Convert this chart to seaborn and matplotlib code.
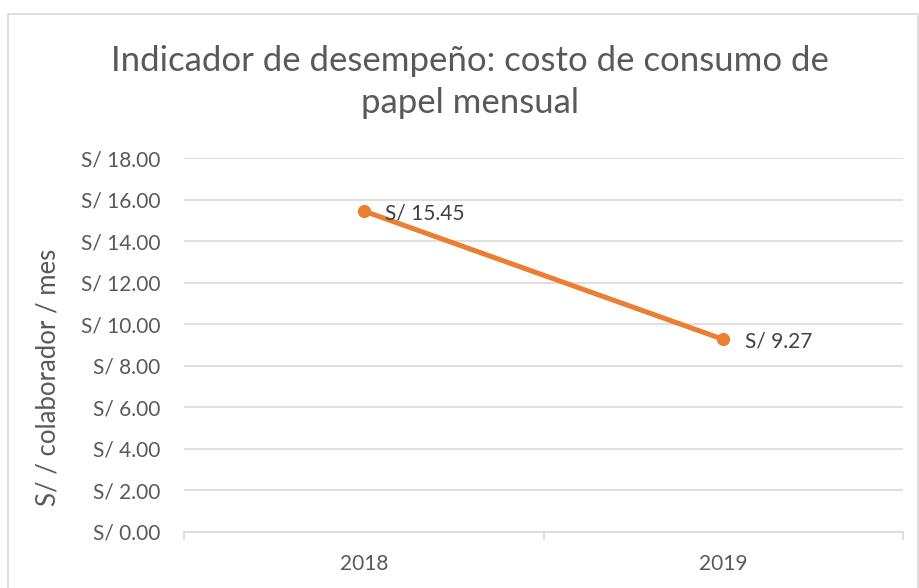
import pandas as pd
import matplotlib.pyplot as plt
import seaborn as sns
from matplotlib.patches import Rectangle
from matplotlib.ticker import FixedLocator, FuncFormatter

years = ["2018", "2019"]
costs = [15.45, 9.27]
yticks = [0, 2, 4, 6, 8, 10, 12, 14, 16, 18]

df = pd.DataFrame({"year": years, "cost": costs})

sns.set_theme(style="white")
plt.rcParams['font.family'] = ['Lato', 'DejaVu Sans']

text_color = "#595959"
grid_color = "#d9d9d9"
orange = "#ED7D31"

fig = plt.figure(figsize=(9.2, 5.88), dpi=100)
ax = fig.add_axes([184 / 920, 1 - 532 / 588, (903 - 184) / 920, (532 - 158) / 588])

sns.lineplot(data=df, x="year", y="cost", ax=ax, color=orange, linewidth=3.6,
             marker="o", markersize=9.5, markeredgewidth=0, zorder=3)

for i, v in enumerate(costs):
    ax.annotate(f"S/ {v:.2f}", (i, v), xytext=(15.5, -1.5), textcoords="offset points",
                ha="left", va="center", fontsize=15, color="#404040")

ax.set_xlim(-0.5, 1.5)
ax.set_ylim(0, 18)
ax.set_yticks(yticks)
ax.yaxis.set_major_formatter(FuncFormatter(lambda v, p: f"S/ {v:.2f}"))
ax.grid(axis="y", color=grid_color, linewidth=1.2)
ax.set_axisbelow(True)
for s in ["top", "right", "left"]:
    ax.spines[s].set_visible(False)
ax.spines["bottom"].set_color(grid_color)
ax.spines["bottom"].set_linewidth(1.2)

ax.xaxis.set_minor_locator(FixedLocator([-0.5, 0.5, 1.5]))
ax.tick_params(axis="x", which="minor", length=6, color=grid_color, width=1.2, bottom=True)
ax.tick_params(axis="x", which="major", length=0, pad=16, labelsize=15, labelcolor=text_color)
ax.tick_params(axis="y", length=0, pad=17, labelsize=15, labelcolor=text_color)
ax.set_xlabel("")
ax.set_ylabel("")

fig.text(470 / 920, 1 - 82 / 588, "Indicador de desempeño: costo de consumo de\npapel mensual",
         ha="center", va="center", fontsize=25, color=text_color, linespacing=1.42)
fig.text(48 / 920, 1 - 377 / 588, "S/ / colaborador / mes", rotation=90,
         ha="center", va="center", fontsize=18.5, color=text_color)

fig.patches.append(Rectangle((8 / 920, -0.05), 910 / 920, 1.05 - 14 / 588,
                             transform=fig.transFigure, fill=False,
                             edgecolor=grid_color, linewidth=1.2))

plt.savefig("out.png", dpi=100)
